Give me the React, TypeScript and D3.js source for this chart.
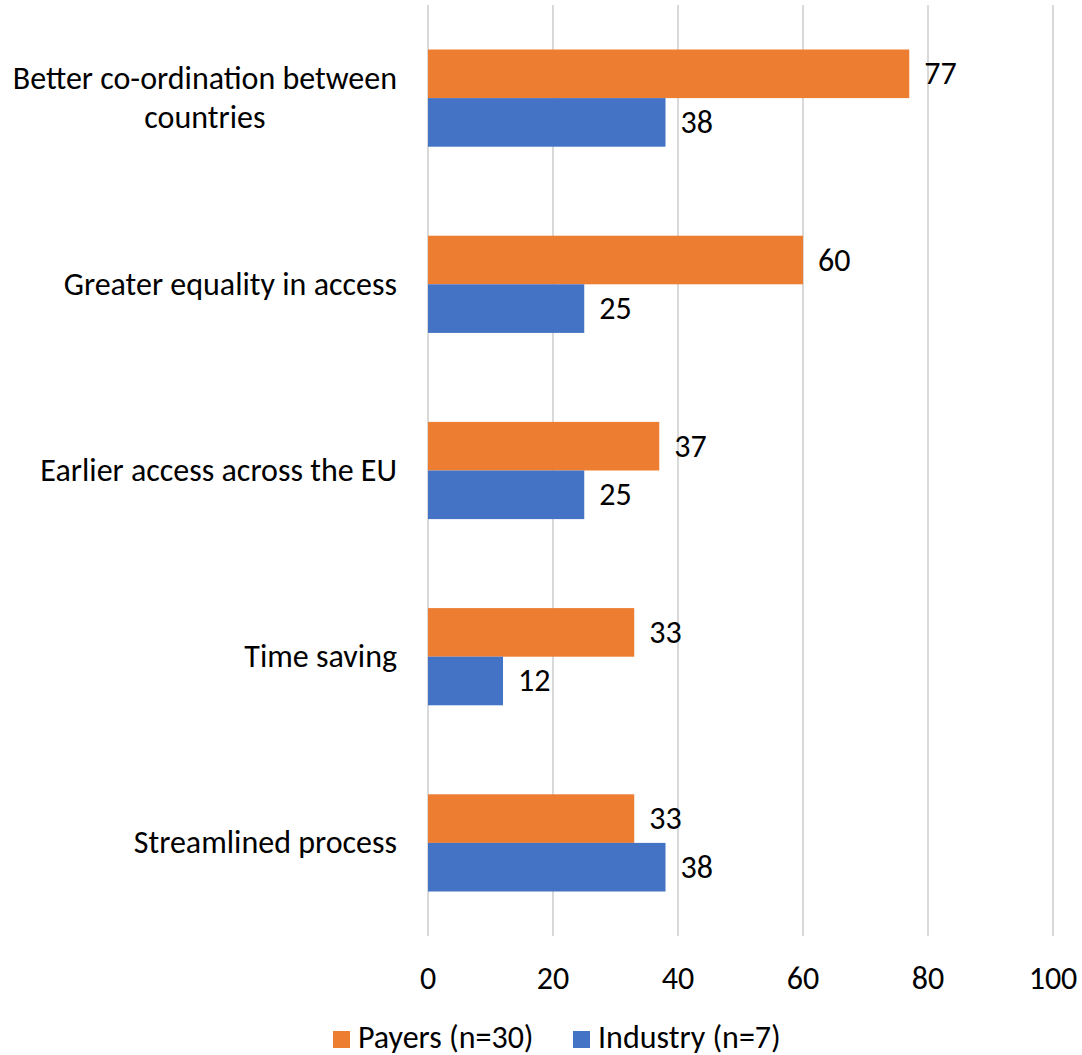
import React from "react";
import * as d3 from "d3";

const categories: string[][] = [
  ["Better co-ordination between", "countries"],
  ["Greater equality in access"],
  ["Earlier access across the EU"],
  ["Time saving"],
  ["Streamlined process"],
];
const payers: number[] = [77, 60, 37, 33, 33];
const industry: number[] = [38, 25, 25, 12, 38];
const xTicks: number[] = [0, 20, 40, 60, 80, 100];
const seriesNames: string[] = ["Payers (n=30)", "Industry (n=7)"];

const W = 1082;
const H = 1055;
const margin = { top: 5, right: 29, bottom: 119, left: 428 };
const FONT = "Carlito, Calibri, 'Liberation Sans', Arial, sans-serif";
const FS = 32;
const COLORS = ["#ED7D31", "#4472C4"];
const LABEL_RIGHT = 397;

// Width of a string in the label font, used to centre wrapped category labels.
function measure(text: string): number {
  const ctx = document.createElement("canvas").getContext("2d");
  if (!ctx) return text.length * FS * 0.48;
  ctx.font = `${FS}px ${FONT}`;
  return ctx.measureText(text).width;
}

export default function App() {
  const x = d3.scaleLinear().domain([0, 100]).range([margin.left, W - margin.right]);
  const y = d3
    .scaleBand<number>()
    .domain(d3.range(categories.length))
    .range([margin.top, H - margin.bottom])
    .paddingInner(0.478)
    .paddingOuter(0.239);
  const sub = d3.scaleBand<number>().domain([0, 1]).range([0, y.bandwidth()]);
  const series = [payers, industry];
  const plotBottom = H - margin.bottom;

  return (
    <svg
      width={W}
      height={H}
      style={{ position: "absolute", left: 0, top: 0, background: "#fff" }}
      fontFamily={FONT}
    >
      {xTicks.map((t) => (
        <line key={"g" + t} x1={x(t)} x2={x(t)} y1={margin.top} y2={plotBottom} stroke="#D9D9D9" strokeWidth={2} />
      ))}
      {xTicks.map((t) => (
        <text key={"t" + t} x={x(t)} y={978} fontSize={FS} textAnchor="middle" dominantBaseline="central" fill="#000">
          {t}
        </text>
      ))}
      {categories.map((lines, i) => {
        const cy = (y(i) as number) + y.bandwidth() / 2;
        const lh = 39;
        const multi = lines.length > 1;
        const blockW = multi ? Math.max(...lines.map(measure)) : 0;
        const ax = multi ? LABEL_RIGHT - blockW / 2 : LABEL_RIGHT;
        return (
          <text key={"c" + i} x={ax} fontSize={FS} textAnchor={multi ? "middle" : "end"} fill="#000">
            {lines.map((l, j) => (
              <tspan key={j} x={ax} y={cy + (j - (lines.length - 1) / 2) * lh} dominantBaseline="central">
                {l}
              </tspan>
            ))}
          </text>
        );
      })}
      {series.map((vals, s) =>
        vals.map((v, i) => {
          const by = (y(i) as number) + (sub(s) as number);
          return (
            <g key={`b${s}-${i}`}>
              <rect x={x(0)} y={by} width={x(v) - x(0)} height={sub.bandwidth()} fill={COLORS[s]} />
              <text
                x={x(v) + 15}
                y={by + sub.bandwidth() / 2}
                fontSize={FS}
                dominantBaseline="central"
                fill="#000"
              >
                {v}
              </text>
            </g>
          );
        })
      )}
      {seriesNames.map((n, s) => {
        const lx = s === 0 ? 333 : 573;
        return (
          <g key={"l" + s}>
            <rect x={lx} y={1031} width={17} height={17} fill={COLORS[s]} />
            <text x={lx + 25} y={1037} fontSize={FS} dominantBaseline="central" fill="#000">
              {n}
            </text>
          </g>
        );
      })}
    </svg>
  );
}
